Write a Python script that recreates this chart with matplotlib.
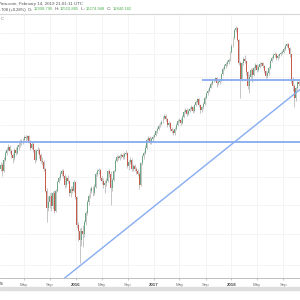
import matplotlib
matplotlib.use("Agg")
import matplotlib.pyplot as plt
import matplotlib.dates as mdates
import pandas as pd
from matplotlib.patches import Rectangle
from matplotlib.transforms import blended_transform_factory

# weekly candles, NYSE composite style
week_start = "2015-01-05"
first_open = 10600
closes = [
    10650, 10720, 10600, 10820, 10950, 11010, 11060, 10980, 10900, 10850,
    11000, 10950, 11060, 11100, 11180, 11140, 11200, 11250, 11230, 11270,
    11180, 11050, 11120, 11000, 10820, 10990, 11010, 10900, 10800, 10780,
    10640, 10250, 9950, 10050, 10150, 9980, 10200, 9900, 10250, 10400,
    10480, 10560, 10600, 10520, 10350, 10480, 10420, 10200, 10280, 10250,
    10400, 10140, 9650, 9550, 9400, 9550, 9500, 9700, 9850, 10050,
    10150, 10250, 10300, 10200, 10320, 10550, 10600, 10620, 10480, 10420,
    10350, 10380, 10420, 10600, 10560, 10300, 10450, 10600, 10800, 10870,
    10850, 10880, 10900, 10870, 10930, 10950, 10700, 10780, 10820, 10650,
    10700, 10640, 10600, 10560, 10350, 10750, 10880, 10950, 11050, 11200,
    11230, 11150, 11210, 11260, 11300, 11370, 11420, 11480, 11520, 11560,
    11640, 11680, 11620, 11500, 11540, 11420, 11380, 11330, 11420, 11500,
    11580, 11600, 11540, 11660, 11760, 11800, 11720, 11780, 11820, 11860,
    11780, 11900, 11960, 12020, 11900, 11790, 11850, 11920, 12050, 12150,
    12200, 12270, 12350, 12400, 12420, 12470, 12360, 12390, 12420, 12560,
    12680, 12740, 12780, 12830, 12870, 13050, 13200, 13380, 13560, 13620,
    13330, 12800, 12450, 12800, 12900, 12850, 12600, 12300, 12500, 12650,
    12550, 12700, 12760, 12650, 12720, 12780, 12800, 12740, 12620, 12520,
    12580, 12700, 12850, 12930, 12990, 13010, 12920, 12960, 13000, 13030,
    13060, 13120, 13200, 13230, 13150, 13000, 12420, 12300, 12050, 12250, 12380, 12350,
]
highs = [
    10720, 10780, 10760, 10860, 10990, 11060, 11110, 11100, 11020, 10950,
    11040, 11060, 11100, 11150, 11210, 11220, 11240, 11290, 11290, 11300,
    11290, 11200, 11160, 11150, 11020, 11030, 11060, 11050, 10950, 10870,
    10810, 10660, 10300, 10150, 10200, 10220, 10240, 10260, 10280, 10430,
    10520, 10600, 10650, 10640, 10560, 10520, 10530, 10440, 10340, 10330,
    10440, 10410, 10150, 9700, 9600, 9620, 9650, 9740, 9890, 10080,
    10190, 10290, 10340, 10340, 10360, 10580, 10640, 10660, 10650, 10520,
    10470, 10440, 10470, 10630, 10650, 10600, 10480, 10630, 10830, 10910,
    10910, 10920, 10950, 10940, 10970, 11000, 10970, 10820, 10860, 10850,
    10740, 10740, 10680, 10640, 10580, 10780, 10910, 10990, 11090, 11230,
    11270, 11270, 11250, 11300, 11340, 11400, 11460, 11520, 11560, 11600,
    11680, 11720, 11720, 11640, 11580, 11560, 11460, 11420, 11450, 11540,
    11610, 11640, 11630, 11690, 11790, 11840, 11830, 11820, 11860, 11900,
    11880, 11930, 12000, 12050, 12040, 11930, 11890, 11960, 12080, 12180,
    12240, 12300, 12380, 12430, 12460, 12500, 12490, 12430, 12460, 12590,
    12710, 12780, 12820, 12870, 12910, 13080, 13230, 13410, 13600, 13650,
    13640, 13350, 12850, 12830, 12950, 12980, 12880, 12620, 12560, 12690,
    12700, 12740, 12800, 12790, 12760, 12820, 12840, 12840, 12770, 12650,
    12620, 12730, 12880, 12960, 13030, 13050, 13040, 13000, 13040, 13070,
    13100, 13160, 13240, 13270, 13260, 13180, 13020, 12500, 12350, 12290, 12420, 12450,
]
lows = [
    10540, 10600, 10520, 10580, 10790, 10900, 10980, 10940, 10850, 10760,
    10820, 10900, 10920, 11010, 11070, 11090, 11110, 11170, 11180, 11190,
    11140, 11010, 11030, 10960, 10760, 10800, 10940, 10850, 10750, 10720,
    10600, 10230, 9700, 9900, 9950, 9900, 9920, 9860, 9880, 10220,
    10380, 10440, 10520, 10480, 10300, 10320, 10380, 10150, 10140, 10200,
    10220, 10100, 9600, 9380, 9030, 9300, 9290, 9450, 9660, 9820,
    10000, 10110, 10200, 10160, 10170, 10300, 10510, 10560, 10440, 10370,
    10300, 10200, 10330, 10400, 10500, 10000, 10250, 10420, 10580, 10780,
    10810, 10820, 10850, 10830, 10840, 10900, 10660, 10620, 10740, 10600,
    10610, 10600, 10550, 10520, 10280, 10330, 10720, 10840, 10930, 11030,
    11170, 11110, 11120, 11170, 11230, 11270, 11340, 11390, 11450, 11490,
    11540, 11610, 11580, 11460, 11460, 11380, 11340, 11290, 11300, 11400,
    11470, 11550, 11500, 11520, 11630, 11730, 11680, 11690, 11750, 11790,
    11740, 11760, 11880, 11940, 11860, 11740, 11760, 11820, 11900, 12030,
    12120, 12180, 12250, 12330, 12380, 12400, 12290, 12320, 12350, 12400,
    12540, 12650, 12700, 12750, 12790, 12850, 13030, 13180, 13360, 13530,
    13300, 12760, 12050, 12420, 12760, 12800, 12540, 12230, 12150, 12470,
    12380, 12520, 12660, 12610, 12620, 12690, 12740, 12700, 12580, 12470,
    12480, 12550, 12680, 12820, 12900, 12950, 12880, 12880, 12920, 12970,
    13000, 13040, 13100, 13160, 13110, 12950, 12360, 12200, 11860, 11990, 12220, 12300,
]

# drawn levels and trend line
resistance = 12440
resistance_from = "2017-08-14"
support = 11160
trend_dates = ["2016-01-20", "2018-11-17"]
trend_prices = [8990, 12220]

tick_dates = ["2015-05-01", "2015-09-01", "2016-01-01", "2016-05-01", "2016-09-01",
              "2017-01-01", "2017-05-01", "2017-09-01", "2018-01-01", "2018-05-01",
              "2018-09-01"]
tick_labels = ["May", "Sep", "2016", "May", "Sep", "2017", "May", "Sep", "2018", "May", "Sep"]
grid_prices = [9000, 9500, 10000, 10500, 11000, 11500, 12000, 12500, 13000, 13500]

header = "View.com, February 14, 2019 21:01:11 UTC"
ohlc_text = [(".708 (+0.28%)  O: ", "#444444"), ("12308.796", "#4caf50"),
             ("  H: ", "#444444"), ("12510.885", "#4caf50"),
             ("  L: ", "#444444"), ("12274.948", "#4caf50"),
             ("  C: ", "#444444"), ("12440.182", "#4caf50")]

plt.rcParams["font.family"] = ["Liberation Sans", "DejaVu Sans"]

up_color = "#6ba583"
down_color = "#c85a4e"
wick_color = "#bdbdbd"
line_color = "#86acf0"

fig = plt.figure(figsize=(3, 3), dpi=100)
ax = fig.add_axes([0, 22 / 300, 1, 264 / 300])

dates = mdates.date2num(pd.date_range(week_start, periods=len(closes), freq="7D"))
opens = [first_open] + closes[:-1]
bottoms = [min(o, c) for o, c in zip(opens, closes)]
heights = [max(abs(c - o), 10) for o, c in zip(opens, closes)]
colors = [up_color if c >= o else down_color for o, c in zip(opens, closes)]

ax.set_yscale("log")
ax.vlines(dates, lows, highs, colors=wick_color, linewidth=0.6, zorder=1)
ax.bar(dates, heights, width=4.5, bottom=bottoms, color=colors, linewidth=0, zorder=2)

# user drawn lines
ax.axhline(support, color=line_color, linewidth=1.3, zorder=3)
ax.hlines(resistance, mdates.datestr2num(resistance_from), mdates.datestr2num("2019-03-01"),
          color=line_color, linewidth=1.3, zorder=3)
ax.axline((mdates.datestr2num(trend_dates[0]), trend_prices[0]),
          (mdates.datestr2num(trend_dates[1]), trend_prices[1]),
          color=line_color, linewidth=1.0, zorder=3)

ax.set_xlim(mdates.datestr2num("2015-01-09"), mdates.datestr2num("2018-11-19"))
ax.set_ylim(8800, 13950)

ax.set_xticks(mdates.datestr2num(tick_dates))
ax.set_xticklabels(tick_labels)
for lab in ax.get_xticklabels():
    if lab.get_text().isdigit():
        lab.set_fontweight("bold")
        lab.set_color("#444444")
    else:
        lab.set_color("#777777")
ax.tick_params(axis="x", length=1.5, width=0.5, color="#aaaaaa", labelsize=3.2, pad=2)
ax.set_yticks(grid_prices)
ax.yaxis.set_minor_locator(matplotlib.ticker.NullLocator())
ax.tick_params(axis="y", length=0, labelleft=False)
ax.grid(True, color="#f0f0f0", linewidth=0.5, zorder=0)
ax.set_axisbelow(True)

# the 2015 label sits just left of the visible range, only its last digit shows
trans = blended_transform_factory(ax.transData, ax.transAxes)
ax.text(mdates.datestr2num("2015-01-01"), -0.023, "2015", transform=trans, fontsize=3.2,
        fontweight="bold", color="#444444", ha="center", va="center", clip_on=False)

for side in ["left", "right"]:
    ax.spines[side].set_visible(False)
ax.spines["top"].set_color("#d6d6d6")
ax.spines["top"].set_linewidth(0.8)
ax.spines["bottom"].set_color("#b5b5b5")
ax.spines["bottom"].set_linewidth(0.6)

# grey strip under the time axis
fig.patches.append(Rectangle((0, 1 - 289.5 / 300), 1, 2.5 / 300, transform=fig.transFigure,
                             color="#dedede", zorder=0))

# header, cropped at the left like the screenshot
fig.text(-2 / 300, 1 - 4 / 300, header, fontsize=3.2, color="#555555", va="center")
prev = fig.text(0, 1 - 9.5 / 300, ohlc_text[0][0], fontsize=3.0, color=ohlc_text[0][1],
                va="center")
for txt, col in ohlc_text[1:]:
    prev = ax.annotate(txt, xy=(1, 0), xycoords=prev, fontsize=3.0, color=col,
                       va="bottom", ha="left", annotation_clip=False)
fig.text(1 / 300, 1 - 19 / 300, "C", fontsize=3.0, color="#777777", va="center")

fig.savefig("out.png", dpi=100)
